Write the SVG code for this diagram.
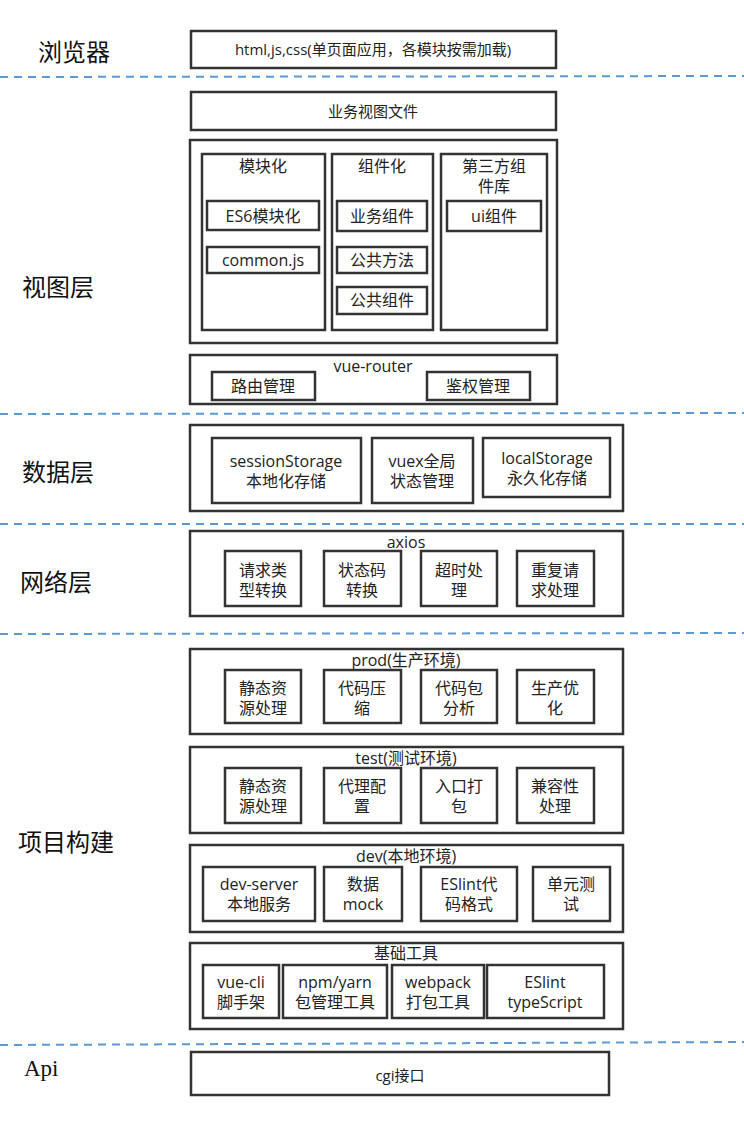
<svg xmlns="http://www.w3.org/2000/svg" width="744" height="1126" viewBox="0 0 744 1126">
<style>
.bg{fill:#fff}
.b{fill:#fff;stroke:#333;stroke-width:2.5}
.t{font-family:"Open Sans","Noto Sans CJK SC",sans-serif;font-size:16px;fill:#222;text-anchor:middle;dominant-baseline:central}
.s{font-size:15px}
.L{font-family:"Noto Sans CJK SC",sans-serif;font-size:24px;fill:#111;dominant-baseline:central}
.api{font-family:"Liberation Serif",serif;font-size:23px;fill:#111;dominant-baseline:central}
.d{stroke:#5b9bd5;stroke-width:2;stroke-dasharray:8,6;fill:none}
</style>
<rect class="bg" x="0" y="0" width="744" height="1126"/>
<g id="dividers">
<line class="d" x1="0" y1="77" x2="744" y2="76"/>
<line class="d" x1="0" y1="414" x2="744" y2="413"/>
<line class="d" x1="0" y1="524" x2="744" y2="524"/>
<line class="d" x1="0" y1="634" x2="744" y2="633"/>
<line class="d" x1="0" y1="1045" x2="744" y2="1042"/>
</g>
<g id="labels">
<text class="L" x="38" y="50">浏览器</text>
<text class="L" x="22" y="285">视图层</text>
<text class="L" x="22" y="470">数据层</text>
<text class="L" x="20" y="580">网络层</text>
<text class="L" x="18" y="840">项目构建</text>
<text class="api" x="24" y="1068">Api</text>
</g>
<g id="browser">
<rect class="b" x="191" y="31" width="365" height="37"/>
<text class="t s" x="373" y="49">html,js,css(单页面应用，各模块按需加载)</text>
</g>
<g id="viewfile">
<rect class="b" x="191" y="92" width="365" height="38"/>
<text class="t s" x="373" y="111">业务视图文件</text>
</g>
<g id="view-modules">
<rect class="b" x="190" y="140" width="367" height="203"/>
<g id="modular">
<rect class="b" x="202" y="154" width="123" height="176"/>
<text class="t" x="263" y="166">模块化</text>
<rect class="b" x="207" y="201" width="112" height="29"/>
<text class="t" x="263" y="216">ES6模块化</text>
<rect class="b" x="207" y="247" width="112" height="26"/>
<text class="t" x="263" y="260">common.js</text>
</g>
<g id="component">
<rect class="b" x="332" y="154" width="101" height="176"/>
<text class="t" x="382" y="166">组件化</text>
<rect class="b" x="337" y="201" width="90" height="30"/>
<text class="t" x="382" y="216">业务组件</text>
<rect class="b" x="337" y="247" width="90" height="26"/>
<text class="t" x="382" y="260">公共方法</text>
<rect class="b" x="337" y="287" width="90" height="27"/>
<text class="t" x="382" y="300">公共组件</text>
</g>
<g id="thirdparty">
<rect class="b" x="441" y="154" width="106" height="176"/>
<text class="t" x="494" y="166">第三方组</text>
<text class="t" x="494" y="186">件库</text>
<rect class="b" x="447" y="201" width="94" height="30"/>
<text class="t" x="494" y="216">ui组件</text>
</g>
</g>
<g id="router">
<rect class="b" x="190" y="355" width="367" height="49"/>
<text class="t" x="373" y="366">vue-router</text>
<rect class="b" x="212" y="372" width="103" height="28"/>
<text class="t" x="263" y="386">路由管理</text>
<rect class="b" x="427" y="372" width="103" height="28"/>
<text class="t" x="478" y="386">鉴权管理</text>
</g>
<g id="data">
<rect class="b" x="190" y="425" width="433" height="86"/>
<rect class="b" x="212" y="438" width="149" height="65"/>
<text class="t" x="286" y="461">sessionStorage</text>
<text class="t" x="286" y="481">本地化存储</text>
<rect class="b" x="372" y="438" width="101" height="65"/>
<text class="t" x="422" y="461">vuex全局</text>
<text class="t" x="422" y="481">状态管理</text>
<rect class="b" x="483" y="438" width="127" height="59"/>
<text class="t" x="547" y="458">localStorage</text>
<text class="t" x="547" y="478">永久化存储</text>
</g>
<g id="network">
<rect class="b" x="190" y="531" width="433" height="85"/>
<text class="t" x="406" y="542">axios</text>
<rect class="b" x="225" y="551" width="76" height="55"/>
<text class="t" x="263" y="570">请求类</text>
<text class="t" x="263" y="590">型转换</text>
<rect class="b" x="324" y="551" width="77" height="55"/>
<text class="t" x="362" y="570">状态码</text>
<text class="t" x="362" y="590">转换</text>
<rect class="b" x="421" y="551" width="76" height="55"/>
<text class="t" x="459" y="570">超时处</text>
<text class="t" x="459" y="590">理</text>
<rect class="b" x="517" y="551" width="77" height="55"/>
<text class="t" x="555" y="570">重复请</text>
<text class="t" x="555" y="590">求处理</text>
</g>
<g id="prod">
<rect class="b" x="190" y="649" width="433" height="85"/>
<text class="t" x="406" y="660">prod(生产环境)</text>
<rect class="b" x="225" y="670" width="76" height="53"/>
<text class="t" x="263" y="688">静态资</text>
<text class="t" x="263" y="708">源处理</text>
<rect class="b" x="324" y="670" width="77" height="53"/>
<text class="t" x="362" y="688">代码压</text>
<text class="t" x="362" y="708">缩</text>
<rect class="b" x="421" y="670" width="76" height="53"/>
<text class="t" x="459" y="688">代码包</text>
<text class="t" x="459" y="708">分析</text>
<rect class="b" x="517" y="670" width="77" height="53"/>
<text class="t" x="555" y="688">生产优</text>
<text class="t" x="555" y="708">化</text>
</g>
<g id="test">
<rect class="b" x="190" y="747" width="433" height="86"/>
<text class="t" x="406" y="758">test(测试环境)</text>
<rect class="b" x="225" y="768" width="76" height="55"/>
<text class="t" x="263" y="786">静态资</text>
<text class="t" x="263" y="806">源处理</text>
<rect class="b" x="324" y="768" width="77" height="55"/>
<text class="t" x="362" y="786">代理配</text>
<text class="t" x="362" y="806">置</text>
<rect class="b" x="421" y="768" width="76" height="55"/>
<text class="t" x="459" y="786">入口打</text>
<text class="t" x="459" y="806">包</text>
<rect class="b" x="517" y="768" width="77" height="55"/>
<text class="t" x="555" y="786">兼容性</text>
<text class="t" x="555" y="806">处理</text>
</g>
<g id="dev">
<rect class="b" x="190" y="845" width="433" height="87"/>
<text class="t" x="406" y="856">dev(本地环境)</text>
<rect class="b" x="203" y="867" width="112" height="54"/>
<text class="t" x="259" y="884">dev-server</text>
<text class="t" x="259" y="904">本地服务</text>
<rect class="b" x="324" y="867" width="78" height="54"/>
<text class="t" x="363" y="884">数据</text>
<text class="t" x="363" y="904">mock</text>
<rect class="b" x="421" y="867" width="96" height="54"/>
<text class="t" x="469" y="884">ESlint代</text>
<text class="t" x="469" y="904">码格式</text>
<rect class="b" x="533" y="867" width="77" height="54"/>
<text class="t" x="571" y="884">单元测</text>
<text class="t" x="571" y="904">试</text>
</g>
<g id="tools">
<rect class="b" x="190" y="943" width="433" height="86"/>
<text class="t" x="406" y="953">基础工具</text>
<rect class="b" x="203" y="965" width="76" height="53"/>
<text class="t" x="241" y="982">vue-cli</text>
<text class="t" x="241" y="1002">脚手架</text>
<rect class="b" x="283" y="965" width="104" height="53"/>
<text class="t" x="335" y="982">npm/yarn</text>
<text class="t" x="335" y="1002">包管理工具</text>
<rect class="b" x="392" y="965" width="92" height="53"/>
<text class="t" x="438" y="982">webpack</text>
<text class="t" x="438" y="1002">打包工具</text>
<rect class="b" x="487" y="965" width="117" height="53"/>
<text class="t" x="545" y="982">ESlint</text>
<text class="t" x="545" y="1002">typeScript</text>
</g>
<g id="api">
<rect class="b" x="191" y="1052" width="418" height="43"/>
<text class="t s" x="400" y="1075">cgi接口</text>
</g>
</svg>
